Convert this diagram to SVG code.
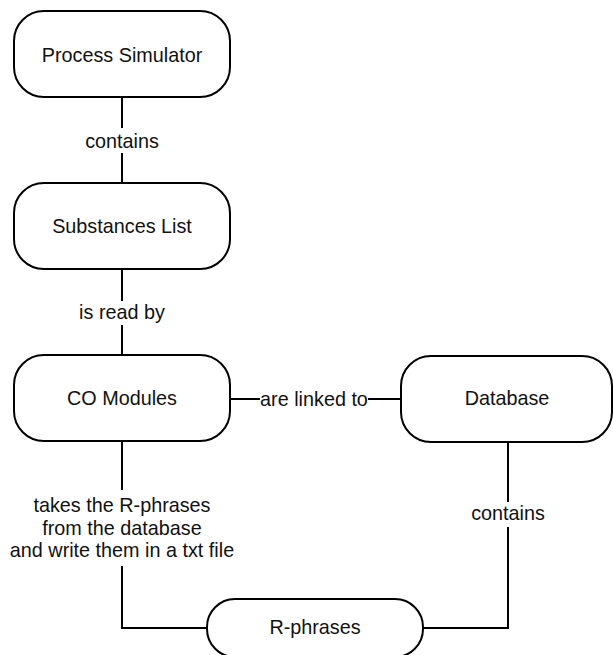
<svg xmlns="http://www.w3.org/2000/svg" width="613" height="655" viewBox="0 0 613 655">
  <style>
    .node rect { fill: #ffffff; stroke: #000000; stroke-width: 2; }
    .node text, .label text { font-family: "Liberation Sans", Arial, sans-serif; font-size: 19.8px; fill: #111111; text-anchor: middle; }
    .edge { fill: none; stroke: #000000; stroke-width: 2; }
    .label rect { fill: #ffffff; stroke: none; }
  </style>
  <rect width="613" height="655" fill="#ffffff"/>

  <!-- connectors with their labels -->
  <g id="connectors">
    <path class="edge" d="M122 97 V183"/>
    <path class="edge" d="M122 269 V355"/>
    <path class="edge" d="M230 399 H401"/>
    <path class="edge" d="M122 441 V628 H207"/>
    <path class="edge" d="M508 442 V628 H423"/>

    <g class="label">
      <rect x="83" y="128" width="78" height="25"/>
      <text x="122" y="148">contains</text>
    </g>
    <g class="label">
      <rect x="77" y="301" width="90" height="24"/>
      <text x="122" y="319">is read by</text>
    </g>
    <g class="label">
      <rect x="260" y="387" width="108" height="24"/>
      <text x="314" y="406">are linked to</text>
    </g>
    <g class="label">
      <rect x="8" y="490" width="230" height="76"/>
      <text x="122" y="512">takes the R-phrases</text>
      <text x="122" y="534.5">from the database</text>
      <text x="122" y="557">and write them in a txt file</text>
    </g>
    <g class="label">
      <rect x="469" y="502" width="78" height="25"/>
      <text x="508" y="520">contains</text>
    </g>
  </g>

  <!-- nodes -->
  <g id="process-simulator" class="node">
    <rect x="14" y="11" width="216" height="86" rx="30" ry="30"/>
    <text x="122" y="62">Process Simulator</text>
  </g>
  <g id="substances-list" class="node">
    <rect x="14" y="183" width="216" height="86" rx="30" ry="30"/>
    <text x="122" y="233">Substances List</text>
  </g>
  <g id="co-modules" class="node">
    <rect x="14" y="355" width="216" height="86" rx="30" ry="30"/>
    <text x="122" y="405">CO Modules</text>
  </g>
  <g id="database" class="node">
    <rect x="401" y="356" width="211" height="86" rx="30" ry="30"/>
    <text x="507" y="405">Database</text>
  </g>
  <g id="r-phrases" class="node">
    <rect x="207" y="599" width="216" height="58" rx="28" ry="28"/>
    <text x="315" y="634">R-phrases</text>
  </g>
</svg>
